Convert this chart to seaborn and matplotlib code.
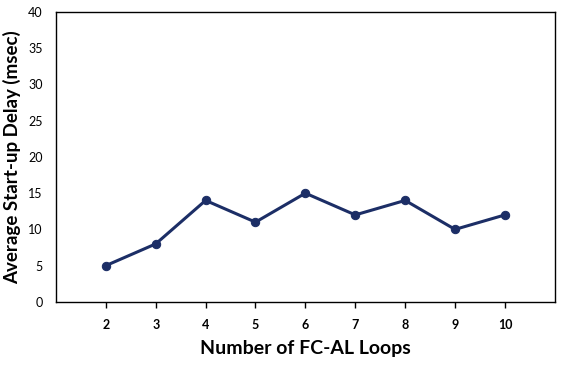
import pandas as pd
import seaborn as sns
import matplotlib.pyplot as plt

LOOPS = [2, 3, 4, 5, 6, 7, 8, 9, 10]
DELAY_MS = [5, 8, 14, 11, 15, 12, 14, 10, 12]
Y_TICKS = [0, 5, 10, 15, 20, 25, 30, 35, 40]

sns.set_style("white")
plt.rcParams["font.family"] = ["Lato", "DejaVu Sans"]
plt.rcParams["text.color"] = "black"
plt.rcParams["axes.labelcolor"] = "black"
plt.rcParams["xtick.color"] = "black"
plt.rcParams["ytick.color"] = "black"

df = pd.DataFrame({"loops": LOOPS, "delay": DELAY_MS})

fig = plt.figure(figsize=(5.65, 3.65), dpi=100)
ax = fig.add_axes([0.099, 0.173, 0.883, 0.794])

sns.lineplot(data=df, x="loops", y="delay", ax=ax, color="#1c2e66",
             linewidth=2.2, marker="o", markersize=6, markeredgecolor="#1c2e66")

ax.set_xlim(1, 11)
ax.set_ylim(0, 40)
ax.set_xticks(LOOPS)
ax.set_yticks(Y_TICKS)
ax.tick_params(axis="x", bottom=True, direction="out", length=4, width=1,
               labelsize=9, pad=8)
ax.tick_params(axis="y", left=False, labelsize=9, pad=6)
for lbl in ax.get_xticklabels():
    lbl.set_fontweight("bold")

for side in ax.spines.values():
    side.set_color("black")
    side.set_linewidth(1)

ax.set_xlabel("Number of FC-AL Loops", fontsize=14, fontweight="bold", labelpad=7)
ax.set_ylabel("Average Start-up Delay (msec)", fontsize=13.5, fontweight="bold", labelpad=5)

fig.savefig("out.png", dpi=100)
